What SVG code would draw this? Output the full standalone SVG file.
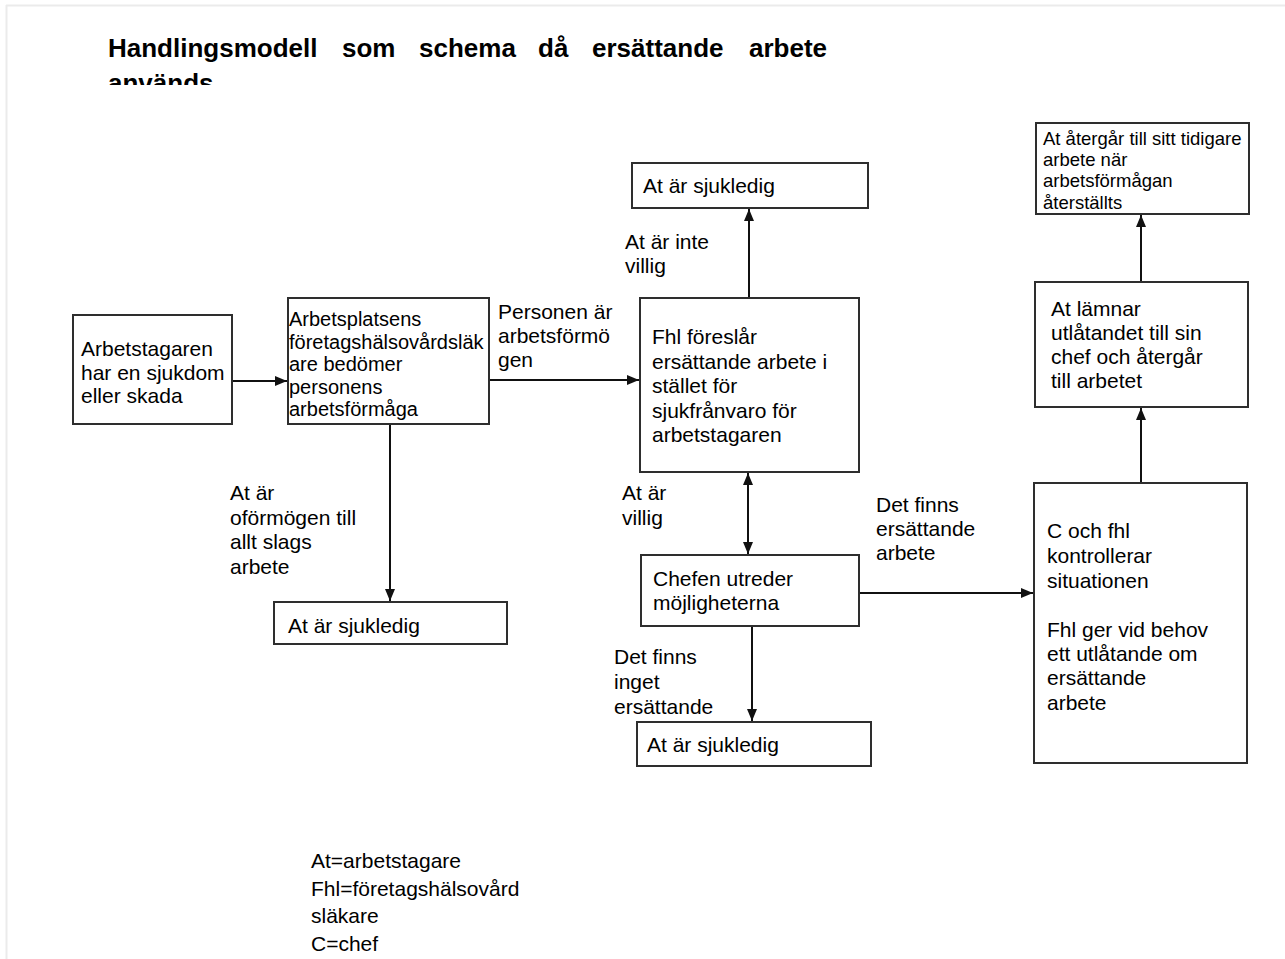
<svg xmlns="http://www.w3.org/2000/svg" width="1285" height="959" viewBox="0 0 1285 959">
<style>
.box{fill:#fff;stroke:#2e2e2e;stroke-width:2}
.t{font-family:"Liberation Sans",Arial,sans-serif;font-size:21px;fill:#000}
.tb{font-size:20px}
.ts{font-size:18.5px}
.title{font-family:"Liberation Sans",Arial,sans-serif;font-size:26px;font-weight:bold;fill:#000}
.c{stroke:#111;stroke-width:2;fill:none}
</style>
<defs>
<marker id="ah" markerUnits="userSpaceOnUse" markerWidth="14" markerHeight="14" viewBox="0 0 14 14" refX="13" refY="7" orient="auto-start-reverse">
<path d="M1,2 L13,7 L1,12 Z" fill="#111"/>
</marker>
<clipPath id="tclip"><rect x="0" y="0" width="1285" height="85"/></clipPath>
</defs>
<rect x="0" y="0" width="1285" height="959" fill="#fff"/>
<g id="frame" stroke="#ebebeb" stroke-width="2">
<line x1="6" y1="5.5" x2="1285" y2="5.5"/>
<line x1="6.5" y1="5" x2="6.5" y2="959"/>
</g>
<g id="title" clip-path="url(#tclip)">
<text class="title" y="57"><tspan x="108">Handlingsmodell</tspan><tspan x="342">som</tspan><tspan x="419">schema</tspan><tspan x="538">då</tspan><tspan x="592">ersättande</tspan><tspan x="749">arbete</tspan></text>
<text class="title" x="108" y="92">används</text>
</g>
<g id="connectors">
<line class="c" x1="232" y1="381" x2="287" y2="381" marker-end="url(#ah)"/>
<line class="c" x1="390" y1="424" x2="390" y2="601" marker-end="url(#ah)"/>
<line class="c" x1="489" y1="380" x2="639" y2="380" marker-end="url(#ah)"/>
<line class="c" x1="749" y1="298" x2="749" y2="209" marker-end="url(#ah)"/>
<line class="c" x1="748" y1="473" x2="748" y2="554" marker-start="url(#ah)" marker-end="url(#ah)"/>
<line class="c" x1="752" y1="626" x2="752" y2="721" marker-end="url(#ah)"/>
<line class="c" x1="859" y1="593" x2="1033" y2="593" marker-end="url(#ah)"/>
<line class="c" x1="1141" y1="483" x2="1141" y2="408" marker-end="url(#ah)"/>
<line class="c" x1="1141" y1="282" x2="1141" y2="215" marker-end="url(#ah)"/>
</g>
<g id="labels">
<text class="t"><tspan y="319" x="498">Personen är</tspan><tspan y="343" x="498">arbetsförmö</tspan><tspan y="367" x="498">gen</tspan></text>
<text class="t"><tspan y="500" x="230">At är</tspan><tspan y="524.5" x="230">oförmögen till</tspan><tspan y="549" x="230">allt slags</tspan><tspan y="573.5" x="230">arbete</tspan></text>
<text class="t"><tspan y="249" x="625">At är inte</tspan><tspan y="273" x="625">villig</tspan></text>
<text class="t"><tspan y="500" x="622">At är</tspan><tspan y="525" x="622">villig</tspan></text>
<text class="t"><tspan y="512" x="876">Det finns</tspan><tspan y="536" x="876">ersättande</tspan><tspan y="560" x="876">arbete</tspan></text>
<text class="t"><tspan y="664" x="614">Det finns</tspan><tspan y="689" x="614">inget</tspan><tspan y="714" x="614">ersättande</tspan></text>
</g>
<g id="nodeA">
<rect class="box" x="73" y="315" width="159" height="109"/>
<text class="t"><tspan x="81" y="356">Arbetstagaren</tspan><tspan x="81" y="379.5">har en sjukdom</tspan><tspan x="81" y="403">eller skada</tspan></text>
</g>
<g id="nodeB">
<rect class="box" x="288" y="298" width="201" height="126"/>
<text class="t tb"><tspan x="289" y="326">Arbetsplatsens</tspan><tspan x="289" y="348.5">företagshälsovårdsläk</tspan><tspan x="289" y="371">are bedömer</tspan><tspan x="289" y="393.5">personens</tspan><tspan x="289" y="416">arbetsförmåga</tspan></text>
</g>
<g id="nodeSick1">
<rect class="box" x="274" y="602" width="233" height="42"/>
<text class="t" x="288" y="633">At är sjukledig</text>
</g>
<g id="nodeC">
<rect class="box" x="640" y="298" width="219" height="174"/>
<text class="t"><tspan x="652" y="344">Fhl föreslår</tspan><tspan x="652" y="368.5">ersättande arbete i</tspan><tspan x="652" y="393">stället för</tspan><tspan x="652" y="417.5">sjukfrånvaro för</tspan><tspan x="652" y="442">arbetstagaren</tspan></text>
</g>
<g id="nodeSick2">
<rect class="box" x="632" y="163" width="236" height="45"/>
<text class="t" x="643" y="193">At är sjukledig</text>
</g>
<g id="nodeD">
<rect class="box" x="641" y="555" width="218" height="71"/>
<text class="t"><tspan x="653" y="586">Chefen utreder</tspan><tspan x="653" y="610">möjligheterna</tspan></text>
</g>
<g id="nodeSick3">
<rect class="box" x="637" y="722" width="234" height="44"/>
<text class="t" x="647" y="752">At är sjukledig</text>
</g>
<g id="nodeF">
<rect class="box" x="1034" y="483" width="213" height="280"/>
<text class="t"><tspan x="1047" y="538">C och fhl</tspan><tspan x="1047" y="563">kontrollerar</tspan><tspan x="1047" y="588">situationen</tspan><tspan x="1047" y="637">Fhl ger vid behov</tspan><tspan x="1047" y="661">ett utlåtande om</tspan><tspan x="1047" y="685">ersättande</tspan><tspan x="1047" y="710">arbete</tspan></text>
</g>
<g id="nodeG">
<rect class="box" x="1035" y="282" width="213" height="125"/>
<text class="t"><tspan x="1051" y="316">At lämnar</tspan><tspan x="1051" y="340">utlåtandet till sin</tspan><tspan x="1051" y="364">chef och återgår</tspan><tspan x="1051" y="388">till arbetet</tspan></text>
</g>
<g id="nodeH">
<rect class="box" x="1036" y="123" width="213" height="91"/>
<text class="t ts"><tspan x="1043" y="145">At återgår till sitt tidigare</tspan><tspan x="1043" y="166">arbete när</tspan><tspan x="1043" y="187">arbetsförmågan</tspan><tspan x="1043" y="209">återställts</tspan></text>
</g>
<g id="legend">
<text class="t"><tspan x="311" y="868">At=arbetstagare</tspan><tspan x="311" y="896">Fhl=företagshälsovård</tspan><tspan x="311" y="923">släkare</tspan><tspan x="311" y="951">C=chef</tspan></text>
</g>
</svg>
